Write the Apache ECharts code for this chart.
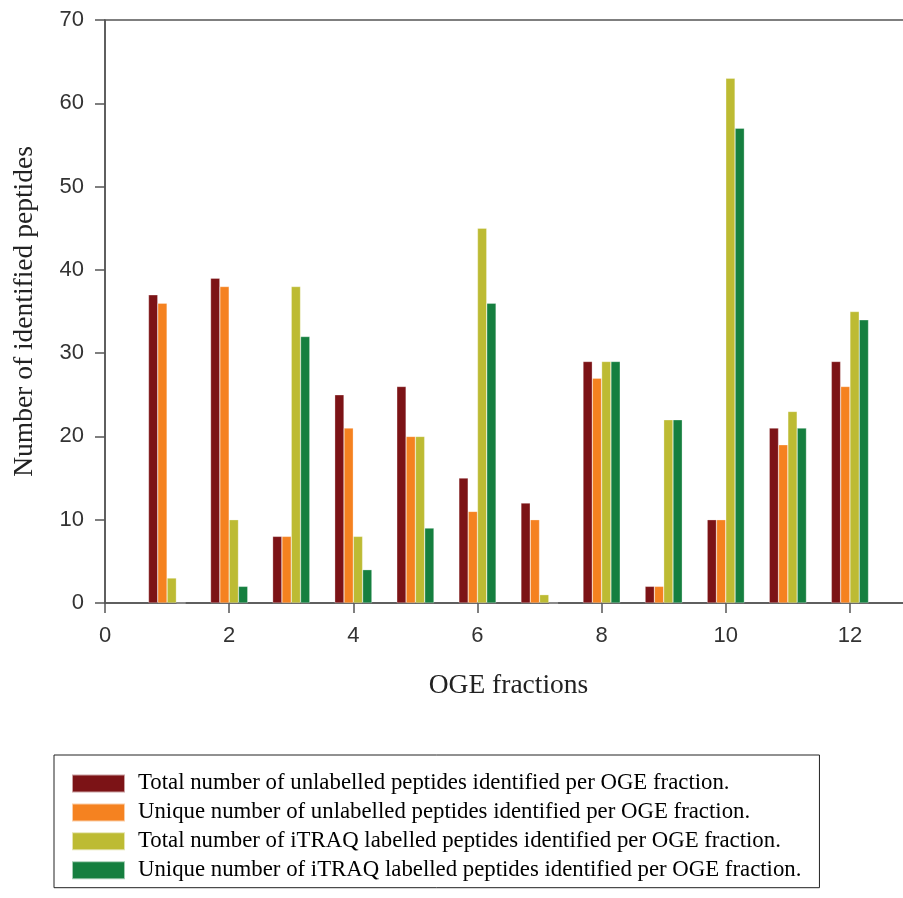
<!DOCTYPE html>
<html>
<head>
<meta charset="utf-8">
<script src="https://cdn.jsdelivr.net/npm/echarts@6/dist/echarts.min.js"></script>
<style>
  html, body { margin: 0; padding: 0; background: #fff; }
  #main { width: 903px; height: 898px; }
</style>
</head>
<body>
<div id="main"></div>
<script>
// OGE fraction numbers (x positions)
var fractions = [1, 2, 3, 4, 5, 6, 7, 8, 9, 10, 11, 12];
var seriesNames = [
  'Total number of unlabelled peptides identified per OGE fraction.',
  'Unique number of unlabelled peptides identified per OGE fraction.',
  'Total number of iTRAQ labelled peptides identified per OGE fraction.',
  'Unique number of iTRAQ labelled peptides identified per OGE fraction.'
];
var totalUnlabelled  = [37, 39, 8, 25, 26, 15, 12, 29, 2, 10, 21, 29];
var uniqueUnlabelled = [36, 38, 8, 21, 20, 11, 10, 27, 2, 10, 19, 26];
var totalITRAQ       = [3, 10, 38, 8, 20, 45, 1, 29, 22, 63, 23, 35];
var uniqueITRAQ      = [0, 2, 32, 4, 9, 36, 0, 29, 22, 57, 21, 34];
var colors = ['#7c1316', '#f58220', '#bdbb33', '#157f3f'];

var myChart = echarts.init(document.getElementById('main'));

function pairs(vals) {
  return fractions.map(function (f, i) { return [f, vals[i]]; });
}

var allVals = [totalUnlabelled, uniqueUnlabelled, totalITRAQ, uniqueITRAQ];
var series = allVals.map(function (vals, k) {
  return {
    name: seriesNames[k],
    type: 'bar',
    barWidth: 9.3,
    barGap: '0%',
    itemStyle: { color: colors[k], borderColor: 'rgba(255,255,255,0.6)', borderWidth: 0.5 },
    data: pairs(vals)
  };
});

myChart.setOption({
  animation: false,
  color: colors,
  grid: {
    left: 105,
    top: 20,
    width: 807,   // axis runs to 13, past the right edge of the picture
    height: 583,
    outerBoundsMode: 'none',
    containLabel: false,
    show: true,
    borderColor: '#555',
    borderWidth: 1.5
  },
  legend: {
    orient: 'vertical',
    left: 54,
    top: 755,
    height: 140,
    padding: [17, 18, 6, 17],
    itemWidth: 53,
    itemHeight: 18,
    itemGap: 5.9,
    borderColor: '#222',
    borderWidth: 1,
    icon: 'rect',
    textStyle: {
      fontFamily: 'Liberation Serif',
      fontSize: 22.8,
      color: '#000',
      padding: [0, 0, 0, 8]
    },
    data: seriesNames
  },
  xAxis: {
    type: 'value',
    min: 0,
    max: 13,
    interval: 2,
    name: 'OGE fractions',
    nameLocation: 'middle',
    nameGap: 69,
    nameTextStyle: { fontFamily: 'Liberation Serif', fontSize: 27.5, color: '#222' },
    splitLine: { show: false },
    axisLine: { lineStyle: { color: '#555', width: 1.5 } },
    axisTick: { show: true, length: 10, lineStyle: { color: '#555', width: 1.5 } },
    axisLabel: {
      fontFamily: 'Liberation Sans',
      fontSize: 22,
      color: '#333',
      margin: 22,
      formatter: function (v) { return v % 2 === 0 ? String(v) : ''; }
    }
  },
  yAxis: {
    type: 'value',
    min: 0,
    max: 70,
    interval: 10,
    name: 'Number of identified peptides',
    nameLocation: 'middle',
    nameGap: 66,
    nameTextStyle: { fontFamily: 'Liberation Serif', fontSize: 27.5, color: '#222' },
    splitLine: { show: false },
    axisLine: { show: true, lineStyle: { color: '#555', width: 1.5 } },
    axisTick: { show: true, length: 10, lineStyle: { color: '#555', width: 1.5 } },
    axisLabel: {
      fontFamily: 'Liberation Sans',
      fontSize: 22,
      color: '#333',
      margin: 21
    }
  },
  series: series
});
</script>
</body>
</html>
